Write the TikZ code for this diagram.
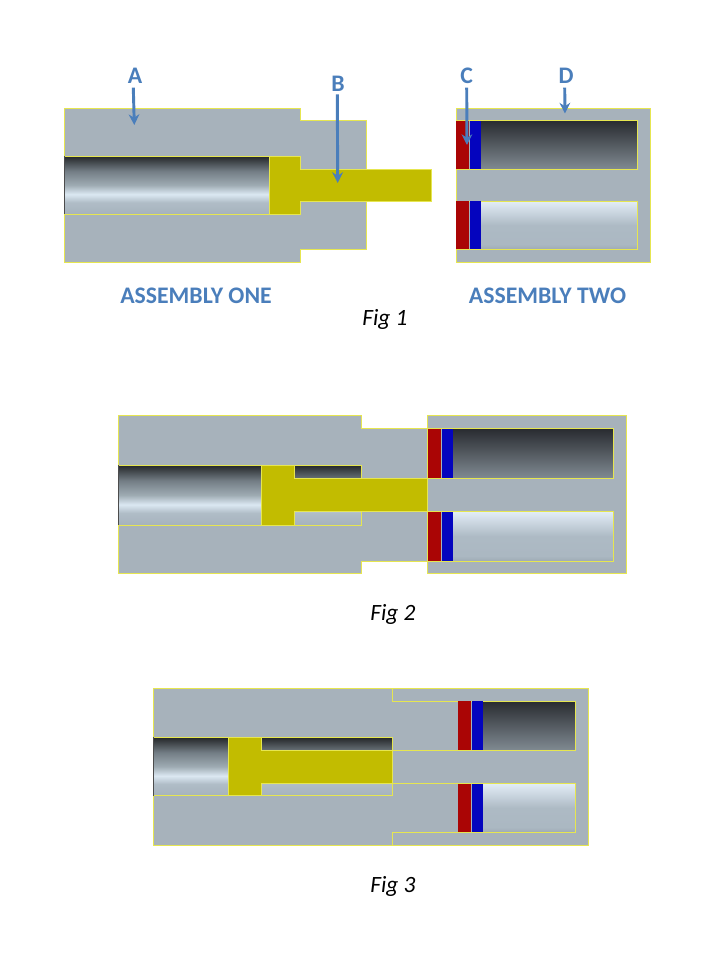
\documentclass[tikz,border=0pt]{standalone}
\usepackage{fontspec}
\setmainfont{Carlito}
\usetikzlibrary{arrows.meta}

\definecolor{bodygray}{RGB}{167,178,187}
\definecolor{edgeyellow}{RGB}{230,230,80}
\definecolor{rodyellow}{RGB}{194,188,0}
\definecolor{sealred}{RGB}{170,5,5}
\definecolor{sealblue}{RGB}{4,4,190}
\definecolor{labelblue}{RGB}{74,126,187}

\pgfdeclareverticalshading{boreshade}{100bp}{rgb(0bp)=(0.65,0.70,0.74); rgb(25bp)=(0.65,0.70,0.74); rgb(35bp)=(0.69,0.74,0.78); rgb(42bp)=(0.86,0.91,0.95); rgb(50bp)=(0.62,0.67,0.70); rgb(62bp)=(0.45,0.49,0.52); rgb(75bp)=(0.14,0.15,0.16); rgb(100bp)=(0.14,0.15,0.16)}
\pgfdeclareverticalshading{darkshade}{100bp}{rgb(0bp)=(0.50,0.54,0.57); rgb(25bp)=(0.50,0.54,0.57); rgb(75bp)=(0.16,0.17,0.19); rgb(100bp)=(0.16,0.17,0.19)}
\pgfdeclareverticalshading{lightshade}{100bp}{rgb(0bp)=(0.62,0.67,0.71); rgb(25bp)=(0.62,0.67,0.71); rgb(30bp)=(0.67,0.72,0.76); rgb(50bp)=(0.68,0.73,0.77); rgb(75bp)=(0.89,0.93,0.97); rgb(100bp)=(0.89,0.93,0.97)}

\tikzset{every picture/.style={line width=0.7pt},
  body/.style={draw=edgeyellow,fill=bodygray},
  edge/.style={draw=edgeyellow},
  piston/.style={draw=edgeyellow,fill=rodyellow},
  sealr/.style={draw=none,fill=sealred},
  sealb/.style={draw=none,fill=sealblue},
  bore/.style={shading=boreshade},
  cavdark/.style={shading=darkshade},
  cavlight/.style={shading=lightshade},
  pointer/.style={draw=labelblue,line width=2.2pt,-{Stealth[length=8pt,width=8pt]}},
  letter/.style={text=labelblue,font=\fontsize{17.8}{20}\selectfont\bfseries,inner sep=0.75pt},
  caption/.style={text=labelblue,font=\fontsize{17.8}{20}\selectfont\bfseries,inner sep=0.75pt},
  figname/.style={font=\fontsize{17.5}{20}\selectfont\itshape,inner sep=0.75pt}}

\begin{document}
\begin{tikzpicture}[x=0.75pt,y=0.75pt,yscale=-1,xscale=1]
\useasboundingbox (0,0) rectangle (720,960);

%Shape: Fig 1 assembly one
\draw [body] (64,108) -- (300,108) -- (300,120.7) -- (366,120.7) -- (366,249.3) -- (300,249.3) -- (300,262) -- (64,262) -- cycle ;
\shade [bore] (64,156) rectangle (269,214);
\draw [edge] (64,156) -- (269,156) (64,214) -- (269,214) ;
\draw [black!70] (64,156) -- (64,214) ;
%Shape: Fig 1 piston
\draw [piston] (269,156) -- (300.5,156) -- (300.5,169) -- (431,169) -- (431,201) -- (300.5,201) -- (300.5,214) -- (269,214) -- cycle ;
%Shape: Fig 1 assembly two
\draw [body] (456,108) -- (650,108) -- (650,262) -- (456,262) -- cycle ;
\shade [cavdark] (481,120.7) rectangle (637.5,169);
\shade [cavlight] (481,201) rectangle (637.5,249.3);
\draw [edge] (456,120.7) -- (637.5,120.7) -- (637.5,169) -- (456,169) (456,201) -- (637.5,201) -- (637.5,249.3) -- (456,249.3) ;
\fill [sealr] (456.4,121) rectangle (468.5,168.6);
\fill [sealb] (469.5,121) rectangle (481,168.6);
\fill [sealr] (456.4,201.4) rectangle (468.5,249);
\fill [sealb] (469.5,201.4) rectangle (481,249);

%Shape: Fig 2 assembly one
\draw [body] (118.3,415) -- (361,415) -- (361,428.7) -- (427.3,428.7) -- (427.3,561) -- (361,561) -- (361,573.7) -- (118.3,573.7) -- cycle ;
\shade [bore] (118.3,465) rectangle (361,525);
\draw [edge] (118.3,465) -- (361,465) -- (361,525) -- (118.3,525) ;
\draw [black!70] (118.3,465) -- (118.3,525) ;
%Shape: Fig 2 assembly two
\draw [body] (427.3,415) -- (626.7,415) -- (626.7,573.7) -- (427.3,573.7) -- cycle ;
\shade [cavdark] (453,428.7) rectangle (613.7,478);
\shade [cavlight] (453,511.3) rectangle (613.7,561);
\draw [edge] (427.3,428.7) -- (613.7,428.7) -- (613.7,478) -- (427.3,478) (427.3,511.3) -- (613.7,511.3) -- (613.7,561) -- (427.3,561) ;
\fill [sealr] (427.7,429) rectangle (440.5,477.6);
\fill [sealb] (441.5,429) rectangle (453,477.6);
\fill [sealr] (427.7,511.7) rectangle (440.5,560.6);
\fill [sealb] (441.5,511.7) rectangle (453,560.6);
%Shape: Fig 2 piston
\draw [piston] (261,465) -- (294.5,465) -- (294.5,478) -- (427.3,478) -- (427.3,511.3) -- (294.5,511.3) -- (294.5,525) -- (261,525) -- cycle ;

%Shape: Fig 3 housing
\draw [body] (153,688.3) -- (588.3,688.3) -- (588.3,845.7) -- (153,845.7) -- cycle ;
\shade [bore] (153,737.3) rectangle (392.3,795.7);
\draw [edge] (153,737.3) -- (392.3,737.3) -- (392.3,795.7) -- (153,795.7) ;
\draw [black!70] (153,737.3) -- (153,795.7) ;
\shade [cavdark] (483.3,701) rectangle (575.3,750);
\shade [cavlight] (483.3,783.3) rectangle (575.3,832.3);
\draw [edge] (392.3,688.3) -- (392.3,701) -- (575.3,701) -- (575.3,750) -- (392.3,750) (392.3,845.7) -- (392.3,832.3) -- (575.3,832.3) -- (575.3,783.3) -- (392.3,783.3) ;
\fill [sealr] (457.7,701.3) rectangle (470.5,749.7);
\fill [sealb] (471.5,701.3) rectangle (483.3,749.7);
\fill [sealr] (457.7,783.6) rectangle (470.5,832);
\fill [sealb] (471.5,783.6) rectangle (483.3,832);
%Shape: Fig 3 piston
\draw [piston] (228.3,737.3) -- (261.7,737.3) -- (261.7,750) -- (392.3,750) -- (392.3,783.3) -- (261.7,783.3) -- (261.7,795.7) -- (228.3,795.7) -- cycle ;

% Text Node
\node [letter] (lblA) at (135,76) {A};
\node [letter] (lblB) at (338,84) {B};
\node [letter] (lblC) at (466.7,76) {C};
\node [letter] (lblD) at (566,76) {D};
\coordinate (tailA) at (133.3,87.7);
\coordinate (tipA) at (134.3,125);
\coordinate (tailB) at (337.3,94.3);
\coordinate (tipB) at (337.7,183);
\coordinate (tailC) at (466.7,87.7);
\coordinate (tipC) at (467,145);
\coordinate (tailD) at (564.7,87.7);
\coordinate (tipD) at (565,113.5);
\draw [pointer] (tailA) -- (tipA);
\draw [pointer] (tailB) -- (tipB);
\draw [pointer] (tailC) -- (tipC);
\draw [pointer] (tailD) -- (tipD);
% Text Node
\node [caption] (asmOne) at (196,296) {ASSEMBLY ONE};
\node [caption] (asmTwo) at (547.5,296) {ASSEMBLY TWO};
% Text Node
\node [figname] (figOne) at (385,319) {Fig 1};
\node [figname] (figTwo) at (393,614) {Fig 2};
\node [figname] (figThree) at (393,886) {Fig 3};

\end{tikzpicture}
\end{document}
